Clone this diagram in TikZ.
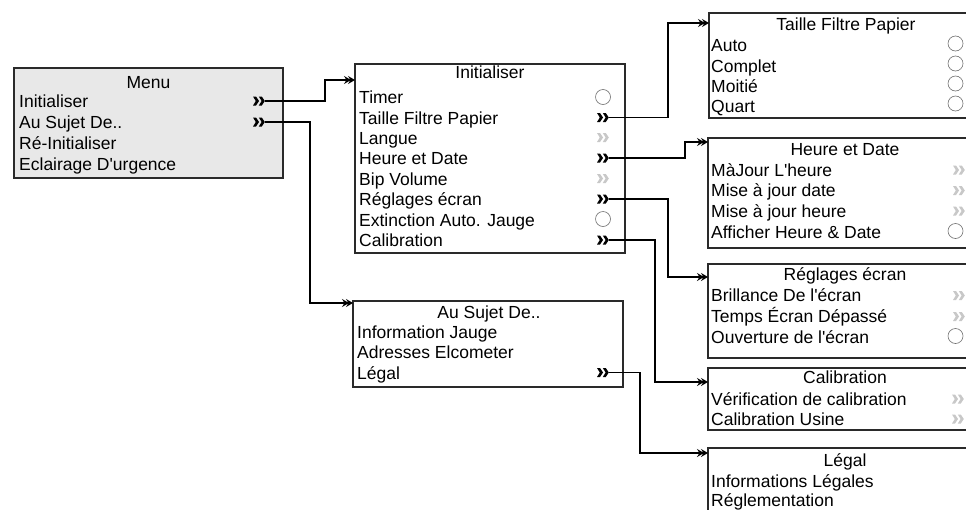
\documentclass[tikz,border=0pt]{standalone}
\usepackage{fontspec}
\setmainfont{Liberation Sans}[Ligatures=TeXOff]
\usetikzlibrary{arrows.meta}
\definecolor{boxline}{HTML}{2A2A2A}
\definecolor{menufill}{HTML}{E8E8E8}
\definecolor{chevgray}{HTML}{C8C8C8}
\definecolor{radgray}{HTML}{707070}
\tikzset{
  x=1pt, y=-1pt,
  boxst/.style={draw=boxline, line width=1.1pt, rectangle, anchor=north west, inner sep=0pt, outer sep=0pt},
  item/.style={anchor=base west, inner sep=0pt, font=\fontsize{17.5}{20}\selectfont},
  ttl/.style={anchor=base, inner sep=0pt, font=\fontsize{17.5}{20}\selectfont},
  chevshape/.style={rectangle, minimum width=12pt, minimum height=10pt, inner sep=0pt, outer sep=0pt,
    path picture={\begin{scope}[shift={(path picture bounding box.center)}]
      \fill[#1] (-6,-4.5) -- (-3,-4.5) -- (0,0) -- (-3,4.5) -- (-6,4.5) -- (-3.2,0) -- cycle;
      \fill[#1] (-0.2,-4.5) -- (2.8,-4.5) -- (5.8,0) -- (2.8,4.5) -- (-0.2,4.5) -- (2.6,0) -- cycle;
    \end{scope}}},
  chev/.style={chevshape=black},
  chevg/.style={chevshape=chevgray},
  rad/.style={draw=radgray, line width=0.6pt, circle, minimum size=15pt, inner sep=0pt},
  arr/.style={draw=black, line width=1.2pt, -{Stealth[length=7pt,width=8pt,inset=2.5pt,sep=-3pt]Stealth[length=7pt,width=8pt,inset=2.5pt]}},
}
\begin{document}
\begin{tikzpicture}
\useasboundingbox (0,0) rectangle (966,509);
\fill[white] (0,0) rectangle (966,509);
\clip (0,0) rectangle (966,509);

% ---------- Menu ----------
\node[boxst, fill=menufill, minimum width=269, minimum height=110] (menu) at (14,68) {};
\node[ttl] (menuT) at (148.5,88) {Menu};
\node[item] (m1) at (19,107) {Initialiser};
\node[item] (m2) at (19,128) {Au Sujet De..};
\node[item] (m3) at (19,149) {Ré-Initialiser};
\node[item] (m4) at (19,170) {Eclairage D'urgence};
\node[chev] (mc1) at (259,101) {};
\node[chev] (mc2) at (259,122) {};

% ---------- Initialiser ----------
\node[boxst, minimum width=270, minimum height=189] (init) at (355,64) {};
\node[ttl] (initT) at (490,78) {Initialiser};
\node[item] (i1) at (359,103.5) {Timer};
\node[item] (i2) at (359,124) {Taille Filtre Papier};
\node[item] (i3) at (359,144) {Langue};
\node[item] (i4) at (359,164.5) {Heure et Date};
\node[item] (i5) at (359,185) {Bip Volume};
\node[item] (i6) at (359,205.5) {Réglages écran};
\node[item] (i7) at (359,226) {Extinction Auto. Jauge};
\node[item] (i8) at (359,246.5) {Calibration};
\node[rad] (ir1) at (603,97) {};
\node[chev] (ic2) at (603,117.5) {};
\node[chevg] (ic3) at (603,137.5) {};
\node[chev] (ic4) at (603,158) {};
\node[chevg] (ic5) at (603,178.5) {};
\node[chev] (ic6) at (603,199) {};
\node[rad] (ir7) at (603,219) {};
\node[chev] (ic8) at (603,240) {};

% ---------- Au Sujet De.. ----------
\node[boxst, minimum width=270, minimum height=86] (about) at (353,301) {};
\node[ttl] (aboutT) at (489,318) {Au Sujet De..};
\node[item] (a1) at (357,338.5) {Information Jauge};
\node[item] (a2) at (357,358.5) {Adresses Elcometer};
\node[item] (a3) at (357,379) {Légal};
\node[chev] (ac3) at (603,372.5) {};

% ---------- Taille Filtre Papier ----------
\node[boxst, minimum width=274, minimum height=105] (taille) at (709,13) {};
\node[ttl] (tailleT) at (846,30) {Taille Filtre Papier};
\node[item] (t1) at (711,51.5) {Auto};
\node[item] (t2) at (711,72) {Complet};
\node[item] (t3) at (711,92) {Moitié};
\node[item] (t4) at (711,112) {Quart};
\node[rad] (tr1) at (955.5,43.5) {};
\node[rad] (tr2) at (955.5,63.5) {};
\node[rad] (tr3) at (955.5,83.5) {};
\node[rad] (tr4) at (955.5,103.5) {};

% ---------- Heure et Date ----------
\node[boxst, minimum width=274, minimum height=110] (heure) at (708,138) {};
\node[ttl] (heureT) at (845,155) {Heure et Date};
\node[item] (h1) at (711,176) {MàJour L'heure};
\node[item] (h2) at (711,196.5) {Mise à jour date};
\node[item] (h3) at (711,217) {Mise à jour heure};
\node[item] (h4) at (711,238) {Afficher Heure \& Date};
\node[chevg] (hc1) at (959,170) {};
\node[chevg] (hc2) at (959,190.5) {};
\node[chevg] (hc3) at (959,211) {};
\node[rad] (hr4) at (955.5,231) {};

% ---------- Réglages écran ----------
\node[boxst, minimum width=274, minimum height=94] (regl) at (708,264) {};
\node[ttl] (reglT) at (845,280) {Réglages écran};
\node[item] (r1) at (711,301.5) {Brillance De l'écran};
\node[item] (r2) at (711,322.5) {Temps Écran Dépassé};
\node[item] (r3) at (711,343) {Ouverture de l'écran};
\node[chevg] (rc1) at (959,295.5) {};
\node[chevg] (rc2) at (959,316.5) {};
\node[rad] (rr3) at (955.5,336) {};

% ---------- Calibration ----------
\node[boxst, minimum width=274, minimum height=62] (calib) at (708,368) {};
\node[ttl] (calibT) at (845,383) {Calibration};
\node[item] (c1) at (711,405) {Vérification de calibration};
\node[item] (c2) at (711,425) {Calibration Usine};
\node[chevg] (cc1) at (958,399) {};
\node[chevg] (cc2) at (958,419) {};

% ---------- Légal ----------
\node[boxst, minimum width=274, minimum height=90] (legal) at (708,448) {};
\node[ttl] (legalT) at (845,466) {Légal};
\node[item] (l1) at (711,487) {Informations Légales};
\node[item] (l2) at (711,506) {Réglementation};

% ---------- connectors ----------
\coordinate (initIn) at (init.north west |- 0,80);
\coordinate (aboutIn) at (about.north west |- 0,303);
\coordinate (tailleIn) at (taille.north west |- 0,23);
\coordinate (heureIn) at (heure.north west |- 0,142);
\coordinate (reglIn) at (regl.north west |- 0,277);
\coordinate (calibIn) at (calib.north west |- 0,382);
\coordinate (legalIn) at (legal.north west |- 0,453);

\draw[arr] (mc1.east) -| (325,80) -- (initIn);
\draw[arr] (mc2.east) -| (310,303) -- (aboutIn);
\draw[arr] (ic2.east) -| (668,23) -- (tailleIn);
\draw[arr] (ic4.east) -| (685,142) -- (heureIn);
\draw[arr] (ic6.east) -| (668,277) -- (reglIn);
\draw[arr] (ic8.east) -| (655,382) -- (calibIn);
\draw[arr] (ac3.east) -| (640,453) -- (legalIn);
\end{tikzpicture}
\end{document}
